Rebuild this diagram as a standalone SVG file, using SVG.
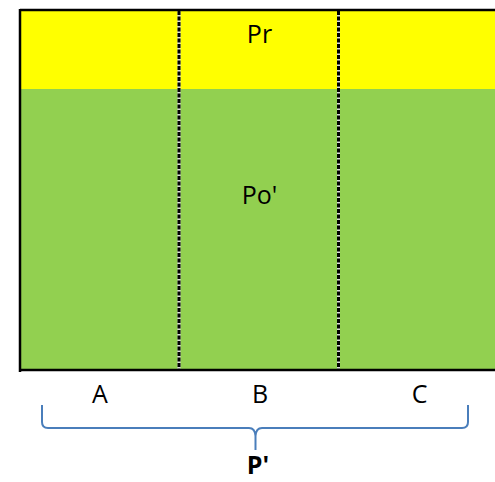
<svg xmlns="http://www.w3.org/2000/svg" width="495" height="482" viewBox="0 0 495 482">
  <style>
    .lbl { font-family: "Open Sans", "Liberation Sans", sans-serif; font-size: 25px; fill: #000; text-anchor: middle; }
    .bold { font-weight: bold; }
    .div-bg { stroke: #dddddd; stroke-width: 3; }
    .div { stroke: #000; stroke-width: 3; stroke-dasharray: 4 1.5; }
    .brace { fill: none; stroke: #4a7ebb; stroke-width: 2; }
  </style>
  <rect width="495" height="482" fill="#ffffff"/>
  <g id="region-pr">
    <rect x="20" y="10" width="475" height="79" fill="#ffff00"/>
    <text class="lbl" x="259.5" y="43">Pr</text>
  </g>
  <g id="region-po">
    <rect x="20" y="89" width="475" height="281" fill="#92d050"/>
    <text class="lbl" x="259.5" y="204">Po'</text>
  </g>
  <g id="frame">
    <line x1="20" y1="10" x2="495" y2="10" stroke="#000" stroke-width="2.5"/>
    <line x1="20" y1="9" x2="20" y2="372" stroke="#000" stroke-width="2.5"/>
    <line x1="20" y1="370" x2="495" y2="370" stroke="#000" stroke-width="2.5"/>
  </g>
  <g id="connectors">
    <line class="div-bg" x1="179" y1="11" x2="179" y2="369"/>
    <line class="div" x1="179" y1="11" x2="179" y2="369"/>
    <line class="div-bg" x1="338.5" y1="11" x2="338.5" y2="369"/>
    <line class="div" x1="338.5" y1="11" x2="338.5" y2="369"/>
  </g>
  <g id="label-a"><text class="lbl" x="100" y="403">A</text></g>
  <g id="label-b"><text class="lbl" x="260" y="403">B</text></g>
  <g id="label-c"><text class="lbl" x="419.5" y="403">C</text></g>
  <g id="brace-p">
    <path class="brace" d="M42,405 L42,422 Q42,428 48,428 L249,428 Q255,428 255.5,436 L255.5,450 M255.5,436 Q256,428 262,428 L462,428 Q468,428 468,422 L468,405"/>
    <text class="lbl bold" x="258" y="474">P'</text>
  </g>
</svg>
